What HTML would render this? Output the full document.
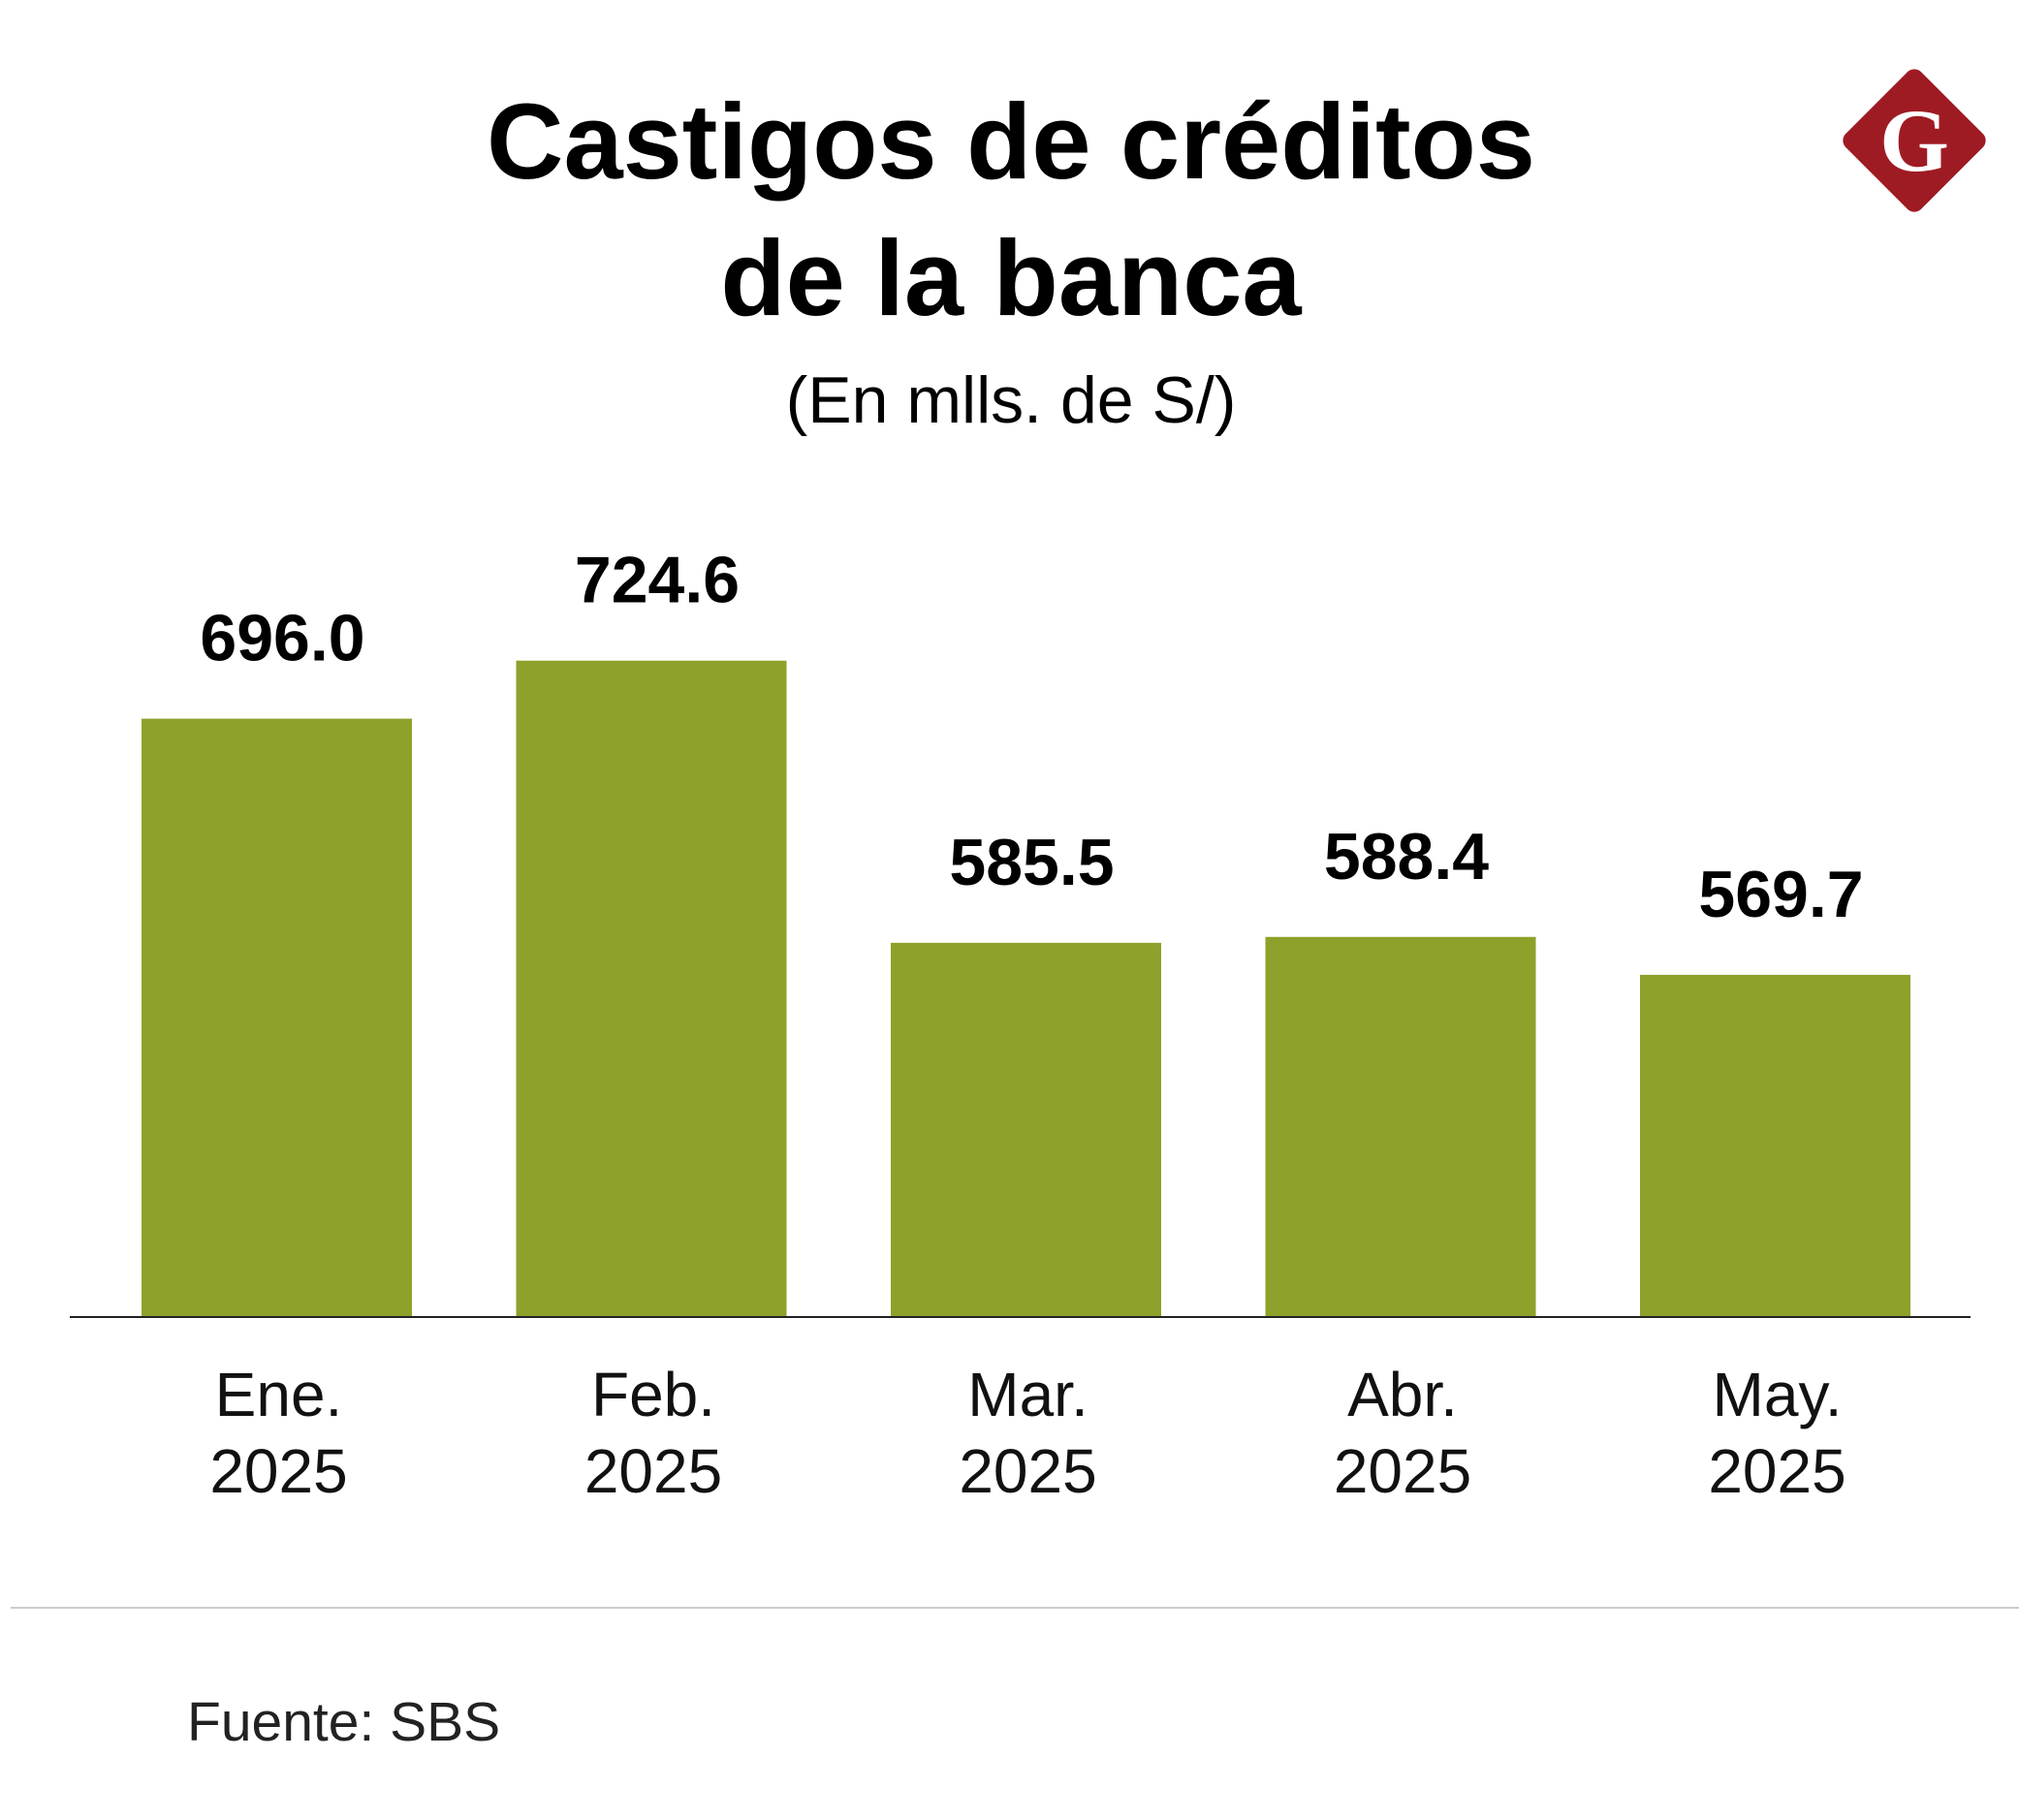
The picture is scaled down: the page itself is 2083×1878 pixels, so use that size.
<!DOCTYPE html>
<html><head><meta charset="utf-8"><style>
html,body{margin:0;padding:0;background:#fff;}
svg{display:block;font-family:"Liberation Sans",sans-serif;}
</style></head><body>
<svg id="chart" width="2083" height="1878" viewBox="0 0 2083 1878">
<text x="1043" y="184" text-anchor="middle" font-size="110" font-weight="bold" fill="#000">Castigos de créditos</text>
<text x="1043" y="325" text-anchor="middle" font-size="110" font-weight="bold" fill="#000">de la banca</text>
<text x="1043" y="436" text-anchor="middle" font-size="68" fill="#000">(En mlls. de S/)</text>
<g>
<rect x="1920" y="90" width="110" height="110" rx="10" fill="#9e1b23" transform="rotate(45 1975 145)"/>
<text x="1975" y="176" text-anchor="middle" font-family="Liberation Serif,serif" font-size="92" font-weight="bold" fill="#fff">G</text>
</g>
<g id="bars"></g>
<line x1="72" y1="1359" x2="2033" y2="1359" stroke="#222" stroke-width="2"/>
<line x1="11" y1="1659" x2="2083" y2="1659" stroke="#ccc" stroke-width="2"/>
<text x="193" y="1796" font-size="57" fill="#222">Fuente: SBS</text>
</svg>
<script>
const months = ["Ene.","Feb.","Mar.","Abr.","May."];
const years = ["2025","2025","2025","2025","2025"];
const values = [696.0,724.6,585.5,588.4,569.7];
const valueLabels = ["696.0","724.6","585.5","588.4","569.7"];

const base = 1359, yMin = 401, pxPerUnit = 2.093;
function y(v){ return base - (v - yMin) * pxPerUnit; }
const x0 = 146, pitch = 386.5, bw = 279;
function x(i){ return x0 + i * pitch; }
const ns = "http://www.w3.org/2000/svg";
const g = document.getElementById("bars");
values.forEach((v,i)=>{
  const r = document.createElementNS(ns,"rect");
  r.setAttribute("x", x(i)); r.setAttribute("y", y(v));
  r.setAttribute("width", bw); r.setAttribute("height", base - y(v));
  r.setAttribute("fill", "#8ea12a");
  
  
  g.appendChild(r);
  const t = document.createElementNS(ns,"text");
  t.setAttribute("x", x(i) + bw/2 + 6); t.setAttribute("y", y(v) - 60);
  t.setAttribute("text-anchor","middle"); t.setAttribute("font-size","68"); t.setAttribute("font-weight","bold");
  t.textContent = valueLabels[i];
  
  
  g.appendChild(t);
  const m = document.createElementNS(ns,"text");
  m.setAttribute("x", x(i) + bw/2 + 2); m.setAttribute("y", 1461);
  m.setAttribute("text-anchor","middle"); m.setAttribute("font-size","64"); m.setAttribute("fill","#111");
  m.textContent = months[i];
  
  
  g.appendChild(m);
  const yr = document.createElementNS(ns,"text");
  yr.setAttribute("x", x(i) + bw/2 + 2); yr.setAttribute("y", 1540);
  yr.setAttribute("text-anchor","middle"); yr.setAttribute("font-size","64"); yr.setAttribute("fill","#111");
  yr.textContent = years[i];
  
  
  g.appendChild(yr);
});
</script>
</body></html>
